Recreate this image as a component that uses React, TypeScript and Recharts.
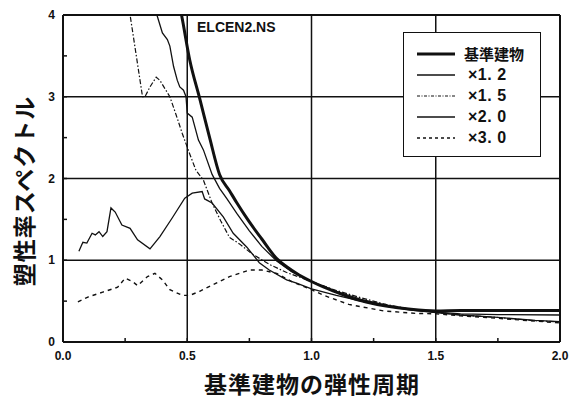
import React from 'react';
import { LineChart, Line, XAxis, YAxis, ReferenceLine } from 'recharts';

// 基準建物
const baseSeries = [
  { t: 0.44, v: 4.5 }, { t: 0.477, v: 4.0 }, { t: 0.51, v: 3.45 }, { t: 0.55, v: 2.98 },
  { t: 0.59, v: 2.5 }, { t: 0.63, v: 2.05 }, { t: 0.67, v: 1.85 }, { t: 0.7, v: 1.7 },
  { t: 0.745, v: 1.49 }, { t: 0.8, v: 1.26 }, { t: 0.86, v: 1.02 }, { t: 0.9, v: 0.92 },
  { t: 0.95, v: 0.82 }, { t: 1.0, v: 0.74 }, { t: 1.05, v: 0.67 }, { t: 1.1, v: 0.61 },
  { t: 1.16, v: 0.54 }, { t: 1.22, v: 0.49 }, { t: 1.3, v: 0.44 }, { t: 1.4, v: 0.4 },
  { t: 1.5, v: 0.38 }, { t: 1.6, v: 0.385 }, { t: 1.75, v: 0.385 }, { t: 1.9, v: 0.385 },
  { t: 2.0, v: 0.385 },
];

// ×1.2
const x12Series = [
  { t: 0.35, v: 4.5 }, { t: 0.378, v: 4.0 }, { t: 0.4, v: 3.78 }, { t: 0.42, v: 3.7 },
  { t: 0.43, v: 3.62 }, { t: 0.445, v: 3.37 }, { t: 0.46, v: 3.2 }, { t: 0.47, v: 3.12 },
  { t: 0.485, v: 3.08 }, { t: 0.495, v: 3.0 }, { t: 0.5, v: 2.8 }, { t: 0.52, v: 2.75 },
  { t: 0.545, v: 2.47 }, { t: 0.565, v: 2.35 }, { t: 0.6, v: 2.05 }, { t: 0.63, v: 1.88 },
  { t: 0.66, v: 1.75 }, { t: 0.7, v: 1.57 }, { t: 0.75, v: 1.36 }, { t: 0.8, v: 1.17 },
  { t: 0.86, v: 0.99 }, { t: 0.92, v: 0.86 }, { t: 1.0, v: 0.74 }, { t: 1.1, v: 0.62 },
  { t: 1.2, v: 0.52 }, { t: 1.3, v: 0.45 }, { t: 1.4, v: 0.4 }, { t: 1.5, v: 0.365 },
  { t: 1.6, v: 0.345 }, { t: 1.75, v: 0.335 }, { t: 2.0, v: 0.33 },
];

// ×1.5
const x15Series = [
  { t: 0.24, v: 5.0 }, { t: 0.27, v: 4.0 }, { t: 0.29, v: 3.6 }, { t: 0.31, v: 3.2 },
  { t: 0.32, v: 3.0 }, { t: 0.33, v: 3.0 }, { t: 0.35, v: 3.12 }, { t: 0.375, v: 3.24 },
  { t: 0.39, v: 3.2 }, { t: 0.41, v: 3.1 }, { t: 0.43, v: 3.0 }, { t: 0.455, v: 2.78 },
  { t: 0.48, v: 2.55 }, { t: 0.51, v: 2.3 }, { t: 0.535, v: 2.1 }, { t: 0.565, v: 1.98 },
  { t: 0.6, v: 1.7 }, { t: 0.635, v: 1.48 }, { t: 0.67, v: 1.28 }, { t: 0.71, v: 1.2 },
  { t: 0.76, v: 1.08 }, { t: 0.83, v: 0.95 }, { t: 0.9, v: 0.85 }, { t: 1.0, v: 0.74 },
  { t: 1.1, v: 0.63 }, { t: 1.2, v: 0.54 }, { t: 1.3, v: 0.46 }, { t: 1.4, v: 0.4 },
  { t: 1.5, v: 0.365 }, { t: 1.6, v: 0.33 }, { t: 1.75, v: 0.3 }, { t: 1.9, v: 0.26 },
  { t: 2.0, v: 0.245 },
];

// ×2.0
const x20Series = [
  { t: 0.064, v: 1.11 }, { t: 0.08, v: 1.22 }, { t: 0.096, v: 1.21 }, { t: 0.117, v: 1.33 },
  { t: 0.13, v: 1.31 }, { t: 0.145, v: 1.35 }, { t: 0.16, v: 1.29 }, { t: 0.177, v: 1.35 },
  { t: 0.193, v: 1.64 }, { t: 0.21, v: 1.59 }, { t: 0.237, v: 1.43 }, { t: 0.27, v: 1.39 },
  { t: 0.3, v: 1.25 }, { t: 0.35, v: 1.14 }, { t: 0.39, v: 1.29 }, { t: 0.44, v: 1.52 },
  { t: 0.49, v: 1.76 }, { t: 0.52, v: 1.82 }, { t: 0.56, v: 1.84 }, { t: 0.57, v: 1.75 },
  { t: 0.6, v: 1.7 }, { t: 0.645, v: 1.53 }, { t: 0.685, v: 1.33 }, { t: 0.74, v: 1.16 },
  { t: 0.79, v: 0.97 }, { t: 0.83, v: 0.88 }, { t: 0.9, v: 0.76 }, { t: 0.94, v: 0.72 },
  { t: 1.0, v: 0.65 }, { t: 1.1, v: 0.57 }, { t: 1.2, v: 0.5 }, { t: 1.3, v: 0.44 },
  { t: 1.4, v: 0.39 }, { t: 1.5, v: 0.36 }, { t: 1.6, v: 0.33 }, { t: 1.75, v: 0.3 },
  { t: 1.9, v: 0.265 }, { t: 2.0, v: 0.25 },
];

// ×3.0
const x30Series = [
  { t: 0.06, v: 0.49 }, { t: 0.1, v: 0.55 }, { t: 0.16, v: 0.61 }, { t: 0.22, v: 0.67 },
  { t: 0.25, v: 0.78 }, { t: 0.28, v: 0.74 }, { t: 0.3, v: 0.69 }, { t: 0.34, v: 0.8 },
  { t: 0.37, v: 0.84 }, { t: 0.4, v: 0.76 }, { t: 0.43, v: 0.64 }, { t: 0.48, v: 0.57 },
  { t: 0.51, v: 0.57 }, { t: 0.55, v: 0.62 }, { t: 0.59, v: 0.68 }, { t: 0.67, v: 0.8 },
  { t: 0.75, v: 0.88 }, { t: 0.8, v: 0.88 }, { t: 0.86, v: 0.84 }, { t: 0.92, v: 0.74 },
  { t: 1.0, v: 0.64 }, { t: 1.05, v: 0.57 }, { t: 1.15, v: 0.46 }, { t: 1.29, v: 0.38 },
  { t: 1.42, v: 0.35 }, { t: 1.5, v: 0.345 }, { t: 1.6, v: 0.32 }, { t: 1.75, v: 0.29 },
  { t: 1.9, v: 0.255 }, { t: 2.0, v: 0.235 },
];

const xTicks = [0, 0.25, 0.5, 0.75, 1.0, 1.25, 1.5, 1.75, 2.0];
const yTicks = [0, 0.5, 1, 1.5, 2, 2.5, 3, 3.5, 4];
const xGrid = [0.5, 1.0, 1.5, 2.0];
const yGrid = [1, 2, 3, 4];

const seriesNames = ['基準建物', '×1. 2', '×1. 5', '×2. 0', '×3. 0'];
const seriesData = [baseSeries, x12Series, x15Series, x20Series, x30Series];
const seriesStyle = [
  { width: 3, dash: undefined as string | undefined, curve: 'monotone' },
  { width: 1.3, dash: undefined, curve: 'linear' },
  { width: 1.2, dash: '5 2 1.5 2', curve: 'linear' },
  { width: 1.3, dash: undefined, curve: 'linear' },
  { width: 1.4, dash: '4 4', curve: 'linear' },
];

const INK = '#111';
const tickFont = '"Liberation Sans", Arial, sans-serif';
const jpFont = '"Noto Sans CJK JP", "Noto Sans", sans-serif';

const XTick = (props: any) => {
  const { x, y, payload } = props;
  const v = payload.value as number;
  const major = Math.abs(v * 2 - Math.round(v * 2)) < 1e-6;
  return (
    <g>
      <line x1={x} y1={y} x2={x} y2={y - 4} stroke={INK} strokeWidth={1.5} />
      {major && (
        <text x={x} y={y + 18} textAnchor="middle" fontFamily={tickFont} fontWeight="bold" fontSize={12} fill={INK}>
          {v.toFixed(1)}
        </text>
      )}
    </g>
  );
};

const YTick = (props: any) => {
  const { x, y, payload } = props;
  const v = payload.value as number;
  const major = Math.abs(v - Math.round(v)) < 1e-6;
  return (
    <g>
      <line x1={x} y1={y} x2={x + 4} y2={y} stroke={INK} strokeWidth={1.5} />
      {major && (
        <text x={x - 8} y={y + 4} textAnchor="end" fontFamily={tickFont} fontWeight="bold" fontSize={12} fill={INK}>
          {v}
        </text>
      )}
    </g>
  );
};

export default function App() {
  return (
    <div style={{ position: 'absolute', left: 0, top: 0, width: 580, height: 402, background: '#fff' }}>
      <LineChart width={580} height={402} margin={{ top: 15, right: 20, left: 0, bottom: 0 }}>
        <XAxis
          type="number"
          dataKey="t"
          domain={[0, 2]}
          ticks={xTicks}
          allowDataOverflow
          height={60}
          tickSize={0}
          tickMargin={0}
          tickLine={false}
          tick={<XTick />}
          axisLine={{ stroke: INK, strokeWidth: 2 }}
        />
        <YAxis
          type="number"
          domain={[0, 4]}
          ticks={yTicks}
          allowDataOverflow
          width={63}
          tickSize={0}
          tickMargin={0}
          tickLine={false}
          tick={<YTick />}
          axisLine={{ stroke: INK, strokeWidth: 2 }}
        />
        {xGrid.map((g) => (
          <ReferenceLine key={'x' + g} x={g} stroke={INK} strokeWidth={g === 2 ? 2 : 1.5} />
        ))}
        {yGrid.map((g) => (
          <ReferenceLine key={'y' + g} y={g} stroke={INK} strokeWidth={g === 4 ? 2 : 1.5} />
        ))}
        {seriesData.map((d, i) => (
          <Line
            key={seriesNames[i]}
            data={d}
            dataKey="v"
            name={seriesNames[i]}
            type={seriesStyle[i].curve as any}
            stroke={INK}
            strokeWidth={seriesStyle[i].width}
            strokeDasharray={seriesStyle[i].dash}
            dot={false}
            activeDot={false}
            isAnimationActive={false}
          />
        ))}
      </LineChart>

      <div
        style={{
          position: 'absolute', left: 197, top: 18, fontFamily: tickFont, fontWeight: 'bold',
          fontSize: 14, color: INK, lineHeight: '18px', whiteSpace: 'nowrap',
        }}
      >
        ELCEN2.NS
      </div>

      <div
        style={{
          position: 'absolute', left: 403, top: 32, width: 136, height: 123, background: '#fff',
          border: `1.5px solid ${INK}`, boxSizing: 'content-box',
        }}
      >
        {seriesNames.map((n, i) => (
          <div
            key={n}
            style={{ position: 'absolute', left: 12, top: 11 + i * 21, height: 20, display: 'flex', alignItems: 'center' }}
          >
            <svg width={40} height={20} style={{ display: 'block' }}>
              <line
                x1={1}
                y1={10}
                x2={39}
                y2={10}
                stroke={INK}
                strokeWidth={seriesStyle[i].width}
                strokeDasharray={i === 2 ? '3 1.5 1 1.5' : seriesStyle[i].dash === '4 4' ? '3 3' : undefined}
              />
            </svg>
            <span
              style={{
                marginLeft: i === 0 ? 8 : 12, fontFamily: i === 0 ? jpFont : tickFont, fontWeight: 'bold',
                fontSize: i === 0 ? 15 : 16, color: INK, whiteSpace: 'nowrap', lineHeight: '20px',
                letterSpacing: i === 0 ? 0 : 0.5,
              }}
            >
              {n}
            </span>
          </div>
        ))}
      </div>

      <div
        style={{
          position: 'absolute', left: 23, top: 191, transform: 'translate(-50%, -50%) rotate(-90deg)',
          fontFamily: jpFont, fontWeight: 'bold', fontSize: 23, color: INK, whiteSpace: 'nowrap',
          letterSpacing: 1,
        }}
      >
        塑性率スペクトル
      </div>

      <div
        style={{
          position: 'absolute', left: 312, top: 383, transform: 'translate(-50%, -50%)',
          fontFamily: jpFont, fontWeight: 'bold', fontSize: 23, color: INK, whiteSpace: 'nowrap',
          letterSpacing: 1,
        }}
      >
        基準建物の弾性周期
      </div>
    </div>
  );
}
